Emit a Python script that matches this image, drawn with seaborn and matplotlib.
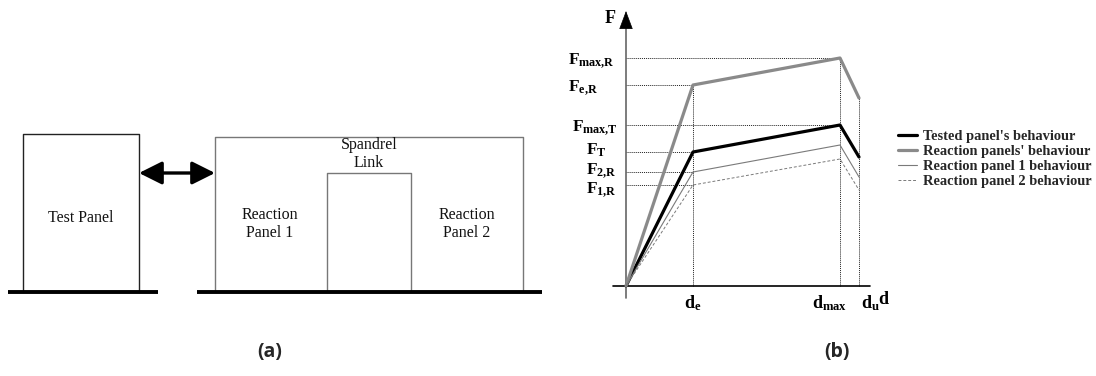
import matplotlib
matplotlib.use("Agg")
import matplotlib.pyplot as plt
import seaborn as sns
import pandas as pd

# ---- force-displacement data (schematic units) ----
d_points = [0, 67, 214, 233]
F_tested = [0, 134, 161, 129]
F_reaction = [0, 201, 228, 188]
F_panel1 = [0, 114, 141, 109]
F_panel2 = [0, 101, 127, 96]
series_names = ["Tested panel's behaviour", "Reaction panels' behaviour",
                "Reaction panel 1 behaviour", "Reaction panel 2 behaviour"]
d_tick_labels = [r"$d_{e}$", r"$d_{max}$", r"$d_{u}$"]
F_tick_labels = [r"$F_{max{,}R}$", r"$F_{e{,}R}$", r"$F_{max{,}T}$", r"$F_{T}$",
                 r"$F_{2{,}R}$", r"$F_{1{,}R}$"]

sns.set_style("white")
plt.rcParams["mathtext.fontset"] = "custom"
plt.rcParams["mathtext.rm"] = "Liberation Serif:bold"
plt.rcParams["mathtext.it"] = "Liberation Serif:bold"
plt.rcParams["mathtext.bf"] = "Liberation Serif:bold"

W, H = 1096, 376
fig = plt.figure(figsize=(W / 100, H / 100), dpi=100)

# ---------------- (a) test set-up sketch ----------------
axL = fig.add_axes([0, 56 / H, 560 / W, 320 / H])
axL.set_xlim(0, 560)
axL.set_ylim(320, 0)
axL.axis("off")

ground = 292
# test panel
axL.plot([23, 23, 139, 139], [ground, 134, 134, ground], color="#222222", lw=1.0)
# reaction wall with spandrel opening
axL.plot([215, 215, 523, 523], [ground, 137, 137, ground], color="#777777", lw=1.0)
axL.plot([327, 327, 411, 411], [ground, 173, 173, ground], color="#777777", lw=1.0)
# foundations
axL.plot([8, 158], [ground, ground], color="black", lw=2.8, solid_capstyle="butt")
axL.plot([197, 542], [ground, ground], color="black", lw=2.8, solid_capstyle="butt")
# actuator
axL.annotate("", xy=(139, 173), xytext=(215, 173),
             arrowprops=dict(arrowstyle="<|-|>,head_length=14,head_width=7",
                             mutation_scale=1, lw=2.4, color="black",
                             shrinkA=0, shrinkB=0))

serif = dict(family="Liberation Serif", fontsize=11.5, color="#111111", linespacing=1.15)
axL.text(81, 218, "Test Panel", ha="center", va="center", **serif)
axL.text(270, 224, "Reaction\nPanel 1", ha="center", va="center", **serif)
axL.text(467, 224, "Reaction\nPanel 2", ha="center", va="center", **serif)
axL.text(369, 154, "Spandrel\nLink", ha="center", va="center", **serif)

# ---------------- (b) force-displacement curves ----------------
axR = fig.add_axes([560 / W, 56 / H, 536 / W, 320 / H])
axR.set_xlim(-66, 470)
axR.set_ylim(-34, 286)
axR.axis("off")

series_values = [F_tested, F_reaction, F_panel1, F_panel2]
df = pd.DataFrame({
    "d": d_points * len(series_names),
    "F": [v for vals in series_values for v in vals],
    "behaviour": [n for n in series_names for _ in d_points],
})
palette = dict(zip(series_names, ["black", "#8a8a8a", "#7a7a7a", "#7a7a7a"]))
sizes = dict(zip(series_names, [2.3, 2.3, 0.8, 0.7]))
dashes = dict(zip(series_names, ["", "", "", (3, 2)]))
sns.lineplot(data=df, x="d", y="F", hue="behaviour", size="behaviour", style="behaviour",
             palette=palette, sizes=sizes, dashes=dashes, sort=False,
             hue_order=series_names, size_order=series_names, style_order=series_names,
             ax=axR, zorder=3)

# guide lines
guide = dict(color="#222222", lw=0.7, dashes=(1, 1), zorder=1)
d_e, d_max, d_u = d_points[1], d_points[2], d_points[3]
axR.plot([0, d_max], [F_reaction[2]] * 2, **guide)
axR.plot([0, d_e], [F_reaction[1]] * 2, **guide)
axR.plot([0, d_max], [F_tested[2]] * 2, **guide)
axR.plot([0, d_e], [F_tested[1]] * 2, **guide)
axR.plot([0, d_e], [F_panel1[1]] * 2, **guide)
axR.plot([0, d_e], [F_panel2[1]] * 2, **guide)
axR.plot([d_e, d_e], [0, F_reaction[1]], **guide)
axR.plot([d_max, d_max], [0, F_reaction[2]], **guide)
axR.plot([d_u, d_u], [0, F_reaction[3]], **guide)

# axes
axR.plot([-13, 244], [0, 0], color="black", lw=1.2, zorder=2)
axR.plot([0, 0], [-12, 262], color="#666666", lw=1.2, zorder=2)
axR.annotate("", xy=(0, 275), xytext=(0, 260),
             arrowprops=dict(arrowstyle="-|>,head_length=12,head_width=4.5",
                             mutation_scale=1, lw=0.5, color="black",
                             shrinkA=0, shrinkB=0))
math_kw = dict(fontsize=13, color="black")
axR.text(-10, 268, r"$F$", ha="right", va="center", **math_kw)
axR.text(258, -13, r"$d$", ha="center", va="center", **math_kw)

# force labels
F_levels = [F_reaction[2], F_reaction[1], F_tested[2], F_tested[1], F_panel1[1], F_panel2[1]]
F_label_x = [-58, -58, -54, -40, -40, -40]
F_label_dy = [-3, -3, -3, 2, 1, -5]
for lab, lev, lx, dy in zip(F_tick_labels, F_levels, F_label_x, F_label_dy):
    axR.text(lx, lev + dy, lab, ha="left", va="center", fontsize=12.5, color="black")

# displacement labels
axR.text(d_e, -17, d_tick_labels[0], ha="center", va="center", **math_kw)
axR.text(d_max + 7, -17, d_tick_labels[1], ha="right", va="center", **math_kw)
axR.text(d_u + 2, -17, d_tick_labels[2], ha="left", va="center", **math_kw)

# legend
auto_leg = axR.get_legend()
handles = auto_leg.legend_handles
labels = [t.get_text() for t in auto_leg.get_texts()]
auto_leg.remove()
axR.legend(handles, labels, loc="upper left", bbox_to_anchor=(338 / 536, (320 - 130) / 320),
           frameon=False, borderpad=0, borderaxespad=0, handlelength=1.3, handletextpad=0.45,
           labelspacing=0.13, prop=dict(family="Liberation Serif", weight="bold", size=10.4))

# panel captions
cap = dict(family="Open Sans", weight="bold", fontsize=14, ha="center", va="center")
fig.text(270 / W, 1 - 352 / H, "(a)", **cap)
fig.text(837 / W, 1 - 352 / H, "(b)", **cap)

fig.savefig("out.png", dpi=100)
